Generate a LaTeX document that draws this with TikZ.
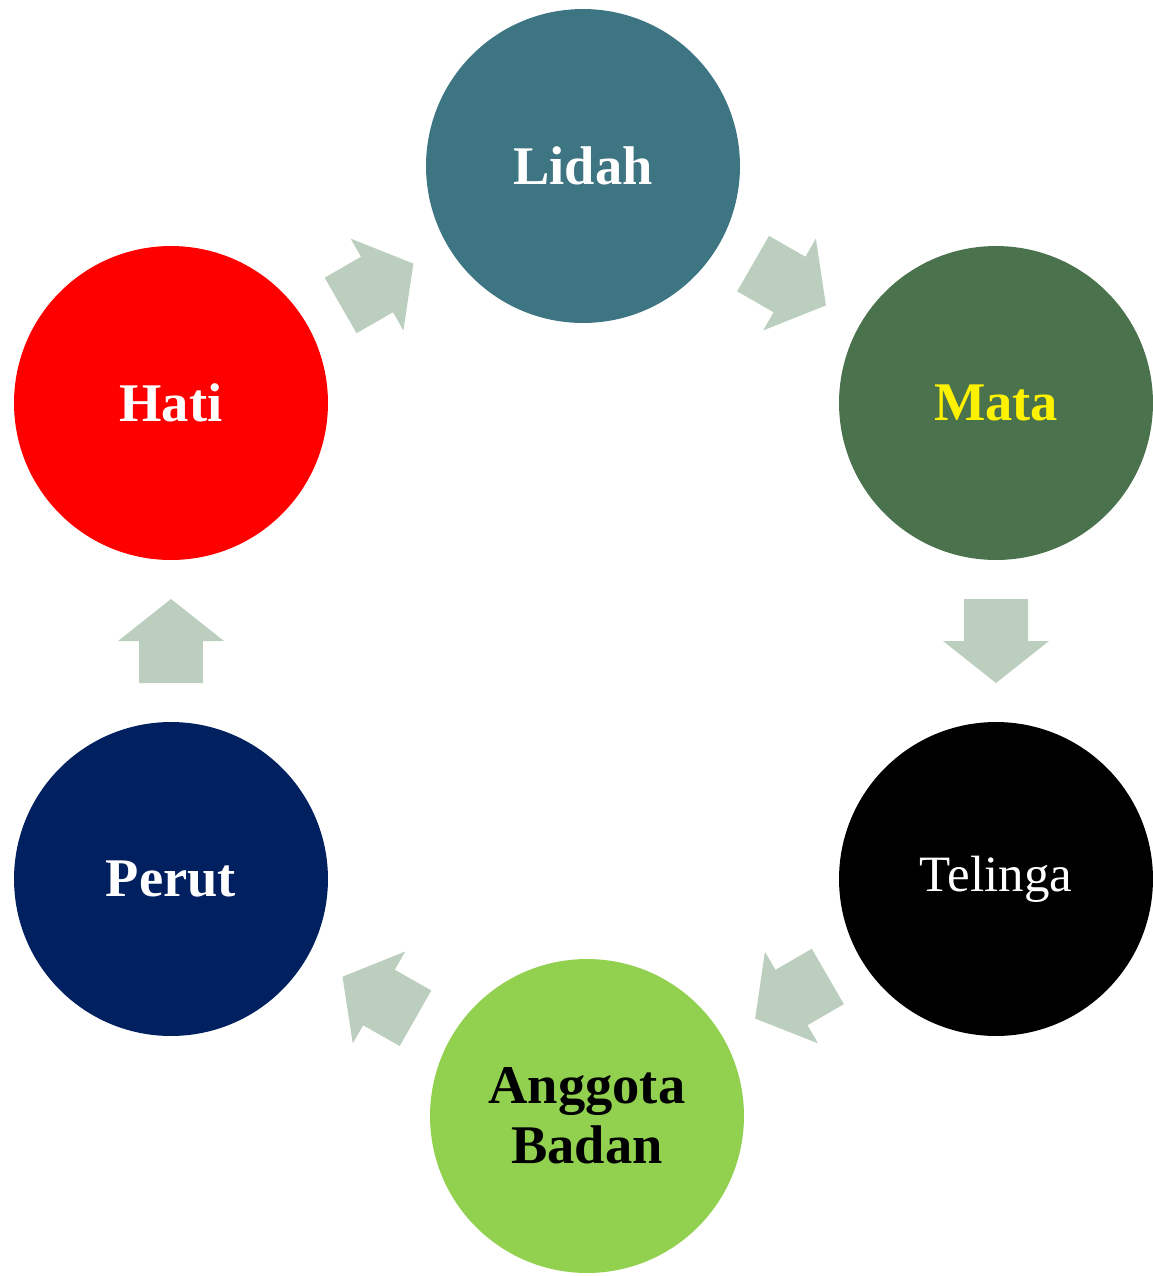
\documentclass[tikz,border=0pt]{standalone}
\usepackage{fontspec}
\setmainfont{Liberation Serif}
\usetikzlibrary{calc}
\definecolor{lidahc}{RGB}{61,117,130}
\definecolor{matac}{RGB}{74,114,76}
\definecolor{anggotac}{RGB}{146,208,80}
\definecolor{perutc}{RGB}{0,32,96}
\definecolor{arrowc}{RGB}{188,207,191}
\newcommand{\stagefont}{\fontsize{31}{34}\selectfont\bfseries}
\newcommand{\cyclearrow}[2]{%
  \fill[cycarrow] let \p1=($(#2)-(#1)$), \n1={atan2(\y1,\x1)}, \p2=($(#1)!0.5!(#2)$) in
    ($(\p2)+(\n1:0.84cm)$)
    -- ($(\p2)+(\n1+90:1.06cm)$)
    -- ($(\p2)+(\n1+90:0.64cm)$)
    -- ($(\p2)+(\n1+90:0.64cm)+(\n1+180:0.84cm)$)
    -- ($(\p2)+(\n1-90:0.64cm)+(\n1+180:0.84cm)$)
    -- ($(\p2)+(\n1-90:0.64cm)$)
    -- ($(\p2)+(\n1-90:1.06cm)$)
    -- cycle;}
\begin{document}
\begin{tikzpicture}[x=0.02cm,y=-0.02cm,
  stage/.style={circle, minimum size=6.28cm, inner sep=0pt, text=white, font=\stagefont, align=center},
  cycarrow/.style={fill=arrowc, draw=none}]
\useasboundingbox (0,0) rectangle (1153,1276);
\node[stage, fill=lidahc] (lidah) at (583,166) {Lidah};
\node[stage, fill=matac, text=yellow] (mata) at (996,403) {Mata};
\node[stage, fill=black, font=\fontsize{29}{34}\selectfont] (telinga) at (996,879) {Telinga};
\node[stage, fill=anggotac, text=black] (anggota) at (587,1116) {Anggota\\Badan};
\node[stage, fill=perutc] (perut) at (171,879) {Perut};
\node[stage, fill=red] (hati) at (171,403) {Hati};
\cyclearrow{lidah}{mata}
\cyclearrow{mata}{telinga}
\cyclearrow{telinga}{anggota}
\cyclearrow{anggota}{perut}
\cyclearrow{perut}{hati}
\cyclearrow{hati}{lidah}
\end{tikzpicture}
\end{document}
